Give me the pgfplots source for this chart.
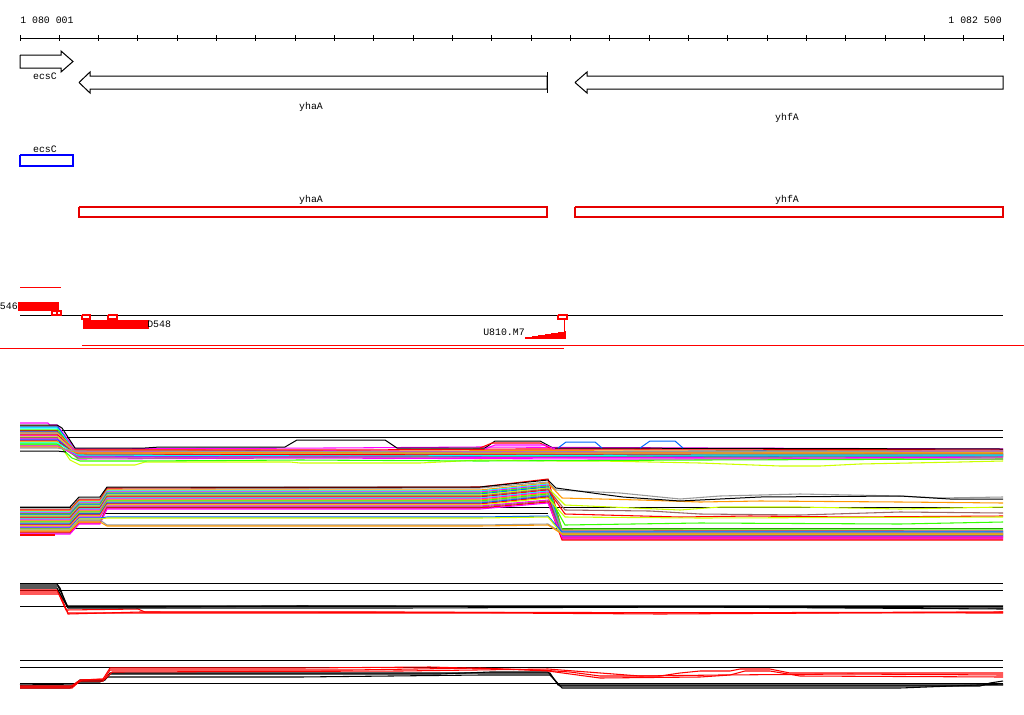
\documentclass[border=0pt]{standalone}
\usepackage{fontspec}
\setmainfont{Liberation Mono}
\usepackage{pgfplots}
\pgfplotsset{compat=1.18}
\definecolor{cred}{RGB}{255,0,0}
\definecolor{cbox}{RGB}{230,0,0}
\definecolor{cgreen}{RGB}{51,255,0}
\definecolor{cblue}{RGB}{0,102,255}
\definecolor{cmag}{RGB}{255,0,255}
\definecolor{ccyan}{RGB}{0,255,255}
\definecolor{corange}{RGB}{255,153,0}
\definecolor{cgray}{RGB}{153,153,153}
\definecolor{cbrown}{RGB}{153,102,102}
\definecolor{cyg}{RGB}{204,255,0}
\tikzset{lab/.style={font=\fontsize{7.4}{8}\selectfont, inner sep=0pt}}
\begin{document}
\begin{tikzpicture}
\begin{axis}[
    width=768pt, height=535.5pt, scale only axis,
    xmin=0, xmax=1024, ymin=0, ymax=714, y dir=reverse,
    hide axis, clip=false, unbounded coords=jump,
    every axis plot/.append style={mark=none, line width=0.8pt},
  ]
% ruler
\addplot[black, line width=0.75pt] coordinates {(20,38) (1003,38)};
\addplot[black, line width=0.75pt] coordinates {
  (20,35) (20,41) (20,nan) (59.32,35) (59.32,41) (59.32,nan) (98.64,35) (98.64,41) (98.64,nan)
  (137.96,35) (137.96,41) (137.96,nan) (177.28,35) (177.28,41) (177.28,nan) (216.6,35) (216.6,41) (216.6,nan)
  (255.92,35) (255.92,41) (255.92,nan) (295.24,35) (295.24,41) (295.24,nan) (334.56,35) (334.56,41) (334.56,nan)
  (373.88,35) (373.88,41) (373.88,nan) (413.2,35) (413.2,41) (413.2,nan) (452.52,35) (452.52,41) (452.52,nan)
  (491.84,35) (491.84,41) (491.84,nan) (531.16,35) (531.16,41) (531.16,nan) (570.48,35) (570.48,41) (570.48,nan)
  (609.8,35) (609.8,41) (609.8,nan) (649.12,35) (649.12,41) (649.12,nan) (688.44,35) (688.44,41) (688.44,nan)
  (727.76,35) (727.76,41) (727.76,nan) (767.08,35) (767.08,41) (767.08,nan) (806.4,35) (806.4,41) (806.4,nan)
  (845.72,35) (845.72,41) (845.72,nan) (885.04,35) (885.04,41) (885.04,nan) (924.36,35) (924.36,41) (924.36,nan)
  (963.68,35) (963.68,41) (963.68,nan) (1003,35) (1003,41)};
\node[lab, anchor=west] at (axis cs:20,20) {1 080 001};
\node[lab, anchor=east] at (axis cs:1002,20) {1 082 500};

% gene arrows
\addplot[black, fill=white, line width=0.75pt] coordinates {(20,55) (61,55) (61,51) (73,61.5) (61,72) (61,68) (20,68) (20,55)};
\addplot[black, fill=white, line width=0.75pt] coordinates {(79,82.5) (90,72) (90,76) (547,76) (547,89) (90,89) (90,93) (79,82.5)};
\addplot[black, line width=0.75pt] coordinates {(547,72) (547,93)};
\addplot[black, fill=white, line width=0.75pt] coordinates {(575,82.5) (587,72) (587,76) (1003,76) (1003,89) (587,89) (587,93) (575,82.5)};
\node[lab] at (axis cs:45,76) {ecsC};
\node[lab] at (axis cs:311,107) {yhaA};
\node[lab] at (axis cs:787,118) {yhfA};

% gene boxes
\addplot[blue, line width=0.8pt] coordinates {(20,155) (73,155) (73,166) (20,166) (20,155)};
\addplot[cbox, line width=0.85pt] coordinates {(79,207) (547,207) (547,217) (79,217) (79,207)};
\addplot[cbox, line width=0.85pt] coordinates {(575,207) (1003,207) (1003,217) (575,217) (575,207)};
\node[lab] at (axis cs:45,149) {ecsC};
\node[lab] at (axis cs:311,200) {yhaA};
\node[lab] at (axis cs:787,200) {yhfA};

% features
\addplot[cred, line width=0.75pt] coordinates {(20,287) (61,287)};
\addplot[black, line width=0.75pt] coordinates {(20,315) (1003,315)};
\addplot[cred, fill=cred, line width=0.3pt] coordinates {(18,302) (58,302) (58,310) (18,310) (18,302)};
\addplot[cred, line width=0.8pt] coordinates {(52,311) (61,311) (61,315) (52,315) (52,311)};
\addplot[cred, line width=0.8pt] coordinates {(57,311) (57,315)};
\addplot[cred, line width=0.8pt] coordinates {(82,315) (90,315) (90,319) (82,319) (82,315)};
\addplot[cred, line width=0.8pt] coordinates {(108,315) (117,315) (117,319) (108,319) (108,315)};
\addplot[cred, fill=cred, line width=0.3pt] coordinates {(83,320) (148,320) (148,328) (83,328) (83,320)};
\addplot[cred, line width=0.8pt] coordinates {(558,315) (567,315) (567,319) (558,319) (558,315)};
\addplot[cred, line width=0.75pt] coordinates {(564,319) (564,338)};
\addplot[cred, fill=cred, line width=0.3pt] coordinates {(525,338) (525,337) (532,337) (532,336) (538,336) (538,335) (545,335) (545,334) (551,334) (551,333) (558,333) (558,332) (564,332) (564,331) (565,331) (565,338) (525,338)};
\addplot[cred, line width=0.75pt] coordinates {(0,348) (564,348)};
\addplot[cred, line width=0.75pt] coordinates {(82,345.5) (1024,345.5)};
\node[lab, anchor=east] at (axis cs:18,306) {546};
\node[lab, anchor=west] at (axis cs:147,324) {D548};
\node[lab, anchor=east] at (axis cs:525,332) {U810.M7};

% ---- group A
\addplot[black, line width=0.75pt] coordinates {(20,430) (1003,430)};
\addplot[black, line width=0.75pt] coordinates {(20,437) (1003,437)};
\addplot[corange] coordinates {(20,426) (57,426) (74,450) (200,450) (420,451) (640,450) (1003,451)};
\addplot[cmag] coordinates {(20,423) (48,423) (50,425) (57,425) (75,449) (330,448) (480,447) (700,448) (1003,449)};
\addplot[cblue] coordinates {(20,427) (58,427) (75,452) (250,451) (500,452) (760,451) (1003,452)};
\addplot[ccyan] coordinates {(20,428) (57,428) (76,452) (300,453) (560,452) (820,453) (1003,453)};
\addplot[cgreen] coordinates {(20,430) (58,430) (75,453) (200,452) (600,454) (900,453) (1003,454)};
\addplot[cred] coordinates {(20,431) (57,431) (74,450) (350,450) (520,449) (700,449) (1003,450)};
\addplot[cblue] coordinates {(20,432) (58,432) (77,457) (300,456) (700,457) (1003,456)};
\addplot[corange] coordinates {(20,433) (58,433) (76,452) (400,453) (800,452) (1003,452)};
\addplot[cgray] coordinates {(20,434) (57,434) (75,454) (500,454) (900,453) (1003,454)};
\addplot[cred] coordinates {(20,435) (58,435) (77,456) (280,455) (620,456) (1003,455)};
\addplot[cmag] coordinates {(20,436) (57,436) (76,452) (330,451) (580,452) (1003,451)};
\addplot[cyg] coordinates {(20,437) (58,437) (78,456) (400,457) (720,456) (1003,457)};
\addplot[cbrown] coordinates {(20,438) (57,438) (76,455) (450,455) (850,454) (1003,455)};
\addplot[cmag] coordinates {(20,439) (58,439) (78,459) (300,458) (600,459) (1003,459)};
\addplot[cblue] coordinates {(20,440) (58,440) (77,456) (260,457) (540,456) (1003,456)};
\addplot[cred] coordinates {(20,441) (57,441) (76,454) (500,455) (1003,454)};
\addplot[cyg] coordinates {(20,442) (58,442) (70,460) (80,465) (135,465) (145,462) (290,462) (300,463) (420,463) (480,460) (560,461) (600,461) (700,463) (780,466) (820,466) (860,464) (960,462) (1003,461)};
\addplot[ccyan] coordinates {(20,443) (58,443) (77,455) (350,456) (700,455) (1003,455)};
\addplot[cgreen] coordinates {(20,444) (57,444) (78,458) (420,457) (900,458) (1003,457)};
\addplot[cgreen] coordinates {(20,445) (58,445) (72,458) (80,461) (140,461) (300,460) (480,461) (700,460) (1003,459)};
\addplot[cmag] coordinates {(20,446) (58,446) (79,457) (370,457) (800,458) (1003,457)};
\addplot[corange] coordinates {(20,447) (58,447) (78,453) (600,453) (1003,453)};
\addplot[cgray] coordinates {(20,448) (57,448) (76,451) (480,452) (1003,451)};
\addplot[black, line width=0.75pt] coordinates {(20,451) (57,451) (66,452)};
\addplot[black, line width=0.75pt] coordinates {(20,425) (57,425) (62,428) (75,448) (145,448) (160,447) (285,447) (297,440) (385,440) (397,448) (485,448) (495,441) (540,441) (553,448) (1003,449)};
\addplot[cred] coordinates {(480,448) (492,443) (540,443) (550,448)};
\addplot[cmag] coordinates {(485,449) (495,445) (545,445) (555,449)};
\addplot[cblue, line width=0.75pt] coordinates {(558,448) (566,442) (595,442) (602,448)};
\addplot[cblue, line width=0.75pt] coordinates {(640,448) (650,441) (675,441) (683,448)};

% ---- group B
\addplot[black, line width=0.75pt] coordinates {(20,507) (1003,507)};
\addplot[black, line width=0.75pt] coordinates {(20,513) (548,513)};
\addplot[black, line width=0.75pt] coordinates {(20,528) (1003,528)};
\addplot[cgray] coordinates {(20,509) (70,509) (79,499) (100,499) (107,489) (480,488) (548,482) (556,490) (620,493) (680,499) (720,496) (800,494) (900,496) (940,498) (1003,497)};
\addplot[cred] coordinates {(20,510) (70,510) (79,500) (100,500) (107,488) (480,487) (548,479) (562,530) (1003,531)};
\addplot[corange] coordinates {(20,511) (70,511) (79,501) (100,501) (107,490) (480,490) (548,483) (562,498) (640,500) (700,502) (760,501) (900,502) (1003,503)};
\addplot[ccyan] coordinates {(20,512) (70,512) (79,502) (100,502) (107,491) (480,491) (548,484) (562,532) (1003,532)};
\addplot[cmag] coordinates {(20,513) (70,513) (79,503) (100,503) (107,492) (480,492) (548,485) (562,533) (1003,533)};
\addplot[cgreen] coordinates {(20,514) (70,514) (79,504) (100,504) (107,493) (480,493) (548,486) (562,529) (1003,529)};
\addplot[cblue] coordinates {(20,515) (70,515) (79,505) (100,505) (107,494) (480,494) (548,487) (562,534) (1003,534)};
\addplot[cyg] coordinates {(20,516) (70,516) (79,506) (100,506) (107,495) (480,495) (548,488) (565,505) (680,510) (720,507) (800,507) (900,509) (1003,507)};
\addplot[cbrown] coordinates {(20,517) (70,517) (79,507) (100,507) (107,496) (480,496) (548,489) (565,510) (650,511) (700,514) (800,515) (900,512) (1003,513)};
\addplot[cred] coordinates {(20,518) (70,518) (79,508) (100,508) (107,497) (480,497) (548,490) (565,514) (680,517) (750,516) (850,517) (1003,516)};
\addplot[ccyan] coordinates {(20,519) (70,519) (79,509) (100,509) (107,498) (480,498) (548,491) (562,535) (1003,535)};
\addplot[cmag] coordinates {(20,520) (70,520) (79,510) (100,510) (107,499) (480,499) (548,492) (562,536) (1003,536)};
\addplot[corange] coordinates {(20,521) (70,521) (79,511) (100,511) (107,500) (480,500) (548,493) (562,537) (1003,537)};
\addplot[cgreen] coordinates {(20,522) (70,522) (79,512) (100,512) (107,501) (480,501) (548,494) (565,525) (700,523) (900,524) (1003,522)};
\addplot[cgray] coordinates {(20,523) (70,523) (79,513) (100,513) (107,502) (480,502) (548,495) (562,531) (1003,531)};
\addplot[cblue] coordinates {(20,524) (70,524) (79,514) (100,514) (107,503) (480,503) (548,496) (562,536) (1003,536)};
\addplot[cred] coordinates {(20,525) (70,525) (79,515) (100,515) (107,504) (480,504) (548,497) (562,538) (1003,538)};
\addplot[cyg] coordinates {(20,526) (70,526) (79,516) (100,516) (107,505) (480,505) (548,498) (565,517) (700,518) (1003,517)};
\addplot[cmag] coordinates {(20,527) (70,527) (79,517) (100,517) (107,506) (480,506) (548,500) (562,539) (1003,539)};
\addplot[cbrown] coordinates {(20,533) (70,533) (79,521) (100,521) (107,507) (480,507) (548,501) (562,535) (1003,535)};
\addplot[cred] coordinates {(20,532) (70,532) (79,523) (100,523) (107,508) (480,508) (548,502) (562,540) (1003,540)};
\addplot[cmag] coordinates {(20,534) (70,534) (79,524) (100,524) (107,509) (480,509) (548,503) (562,537) (1003,537)};
\addplot[cblue] coordinates {(20,528) (70,528) (79,518) (100,518) (107,517) (480,517) (548,516) (562,532) (1003,532)};
\addplot[cyg] coordinates {(20,529) (70,529) (79,519) (100,519) (107,518) (480,518) (548,517) (562,534) (1003,534)};
\addplot[cgray] coordinates {(20,530) (70,530) (79,520) (100,520) (107,525) (480,525) (548,524) (562,533) (1003,533)};
\addplot[corange] coordinates {(20,531) (70,531) (79,522) (100,522) (107,526) (480,526) (548,525) (562,534) (1003,534)};
\addplot[cred] coordinates {(20,535) (55,535)};
\addplot[black, line width=0.75pt] coordinates {(20,507) (70,507) (79,497) (100,497) (107,487) (480,487) (548,480) (556,488) (600,494) (623,497) (680,501) (760,497) (900,496) (950,499) (1003,499)};

% ---- group C
\addplot[black, line width=0.75pt] coordinates {(20,583) (1003,583)};
\addplot[black, line width=0.75pt] coordinates {(20,590) (1003,590)};
\addplot[black, line width=0.75pt] coordinates {(20,606) (1003,606)};
\addplot[cred] coordinates {(20,590) (57,590) (66,610) (138,609) (145,612) (400,612) (600,613) (1003,612)};
\addplot[cred] coordinates {(20,592) (58,592) (68,613) (300,613) (500,613) (660,614) (1003,612)};
\addplot[cred] coordinates {(20,594) (60,594) (68,614) (140,612) (1003,613)};
\addplot[black] coordinates {(20,584) (57,584) (60,588) (67,606) (1003,606)};
\addplot[black] coordinates {(20,586) (58,586) (68,607) (160,607) (300,606) (1003,608)};
\addplot[black] coordinates {(20,588) (57,588) (68,608) (400,608) (700,607) (1003,609)};

% ---- group D
\addplot[black, line width=0.75pt] coordinates {(20,660) (1003,660)};
\addplot[black, line width=0.75pt] coordinates {(20,667) (1003,667)};
\addplot[black, line width=0.75pt] coordinates {(20,683) (1003,683)};
\addplot[black] coordinates {(20,686) (73,686) (80,681) (103,681) (110,674) (440,674) (490,672) (548,672) (560,686) (980,686) (990,683) (1003,681)};
\addplot[black] coordinates {(20,688) (70,688) (78,682) (100,682) (108,677) (300,677) (480,675) (550,675) (562,688) (900,688) (1003,684)};
\addplot[black] coordinates {(20,685) (75,684) (80,680) (105,680) (110,673) (480,673) (550,673) (558,685) (1003,685)};
\addplot[cred] coordinates {(20,687) (70,687) (80,680) (103,679) (110,668) (300,668) (430,667) (500,669) (540,670) (570,672) (600,676) (660,676) (680,673) (700,671) (730,671) (740,669) (770,669) (790,673) (1003,673)};
\addplot[cred] coordinates {(20,688) (72,688) (80,681) (103,681) (110,670) (350,670) (480,668) (548,671) (600,678) (700,677) (730,675) (745,671) (770,671) (800,676) (1003,677)};
\addplot[cred] coordinates {(20,686) (73,686) (82,680) (105,679) (112,672) (400,671) (548,669) (640,676) (720,675) (850,674) (1003,675)};
\end{axis}
\pgfresetboundingbox
\path (current axis.south west) rectangle (current axis.north east);
\end{tikzpicture}
\end{document}
